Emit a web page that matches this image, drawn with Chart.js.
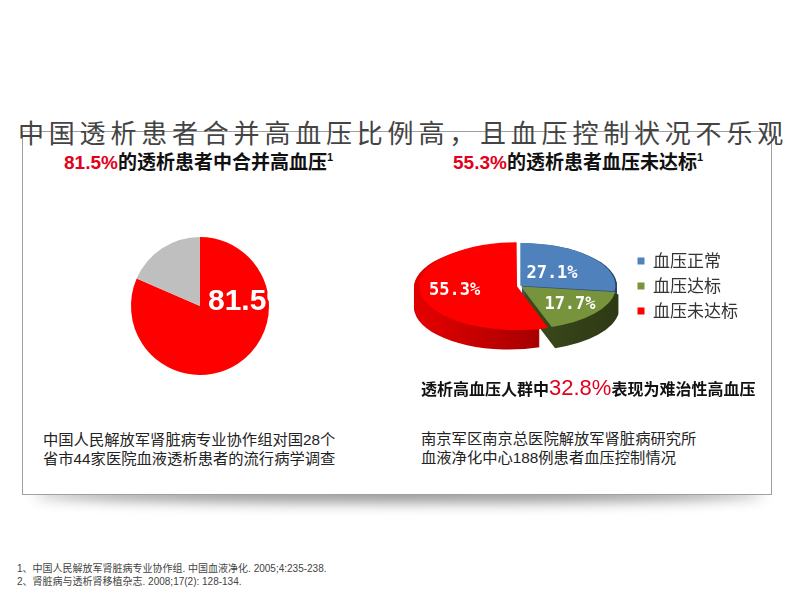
<!DOCTYPE html>
<html lang="zh">
<head>
<meta charset="utf-8">
<script src="https://cdn.jsdelivr.net/npm/chart.js@4.4.1/dist/chart.umd.min.js"></script>
<style>
  body { margin: 0; width: 800px; height: 600px; background: #fff; position: relative; overflow: hidden;
         font-family: "Liberation Sans", "Noto Sans CJK SC", sans-serif; }
  .abs { position: absolute; white-space: nowrap; }
  #shadow { left: 34px; top: 486px; width: 730px; height: 16px; background: rgba(0,0,0,.45);
            filter: blur(7px); border-radius: 50%; z-index: 0; }
  #frame { left: 22px; top: 131px; width: 748px; height: 362px; border: 1px solid #a0a0a0; background: #fff; z-index: 1; }
  #title { left: 18px; top: 117px; font-size: 26px; line-height: 30px; letter-spacing: 4.8px; color: #444;
           font-family: "Noto Sans CJK SC", sans-serif; z-index: 3; }
  .sub { font-size: 19px; line-height: 22px; font-weight: bold; color: #111; z-index: 3; }
  .sub .red { color: #e3001b; }
  .sub sup { font-size: 11px; vertical-align: 8px; line-height: 0; }
  .note { font-size: 15.3px; line-height: 18.5px; color: #222; z-index: 3; }
  .foot { font-size: 10px; line-height: 13px; color: #444; z-index: 3; }
  canvas { position: absolute; z-index: 2; }
</style>
</head>
<body>
<div class="abs" id="shadow"></div>
<div class="abs" id="frame"></div>
<div class="abs" id="title">中国透析患者合并高血压比例高，且血压控制状况不乐观</div>

<div class="abs sub" style="left:64px; top:152px;"><span class="red">81.5%</span>的透析患者中合并高血压<sup>1</sup></div>
<div class="abs sub" style="left:453px; top:152px;"><span class="red">55.3%</span>的透析患者血压未达标<sup>1</sup></div>

<canvas id="pieLeft" width="200" height="200" style="left:100px; top:206px;"></canvas>
<canvas id="pieRight" width="368" height="210" style="left:380px; top:181px;"></canvas>

<div class="abs sub" style="left:421px; top:376px; font-size:16px; line-height:24px;">透析高血压人群中<span class="red" style="font-size:22px; font-weight:normal;">32.8%</span>表现为难治性高血压</div>

<div class="abs note" style="left:43px; top:431px;">中国人民解放军肾脏病专业协作组对国28个<br>省市44家医院血液透析患者的流行病学调查</div>
<div class="abs note" style="left:421px; top:430px;">南京军区南京总医院解放军肾脏病研究所<br>血液净化中心188例患者血压控制情况</div>

<div class="abs foot" style="left:17px; top:562px;">1、中国人民解放军肾脏病专业协作组. 中国血液净化. 2005;4:235-238.<br>2、肾脏病与透析肾移植杂志. 2008;17(2): 128-134.</div>

<script>
// 左图：透析患者合并高血压比例
const leftLabels = ['合并高血压', '未合并高血压'];
const leftValues = [81.5, 18.5];
const leftColors = ['#FF0000', '#BFBFBF'];

// 右图：透析患者血压控制情况
const rightLabels = ['血压正常', '血压达标', '血压未达标'];
const rightValues = [27.1, 17.7, 55.3];
const rightColors = ['#4F81BD', '#77933C', '#FF0000'];
const sideLight = ['#3E6494', '#4A5C24', '#E00000'];
const sideDark = ['#2A4468', '#2E3A14', '#800000'];
const rightOffsets = [3, 6, 11];
const labelRadius = [0.42, 0.62, 0.58];

const TILT = 0.45;
const DEPTH = 20;

// 左图标签（白字，超出饼图部分不可见）
const leftLabel = {
    id: 'leftLabel',
    afterDatasetsDraw(chart) {
        const arc = chart.getDatasetMeta(0).data[0];
        const ctx = chart.ctx;
        ctx.save();
        ctx.font = 'bold 30px "Liberation Sans"';
        ctx.fillStyle = '#fff';
        ctx.textAlign = 'left';
        ctx.textBaseline = 'middle';
        ctx.fillText(leftValues[0].toFixed(1) + '%', arc.x + 8, arc.y - 4);
        ctx.restore();
    }
};

// 右图伪3D效果：压扁并画侧面
const pie3d = {
    id: 'pie3d',
    beforeDatasetsDraw(chart) {
        const ctx = chart.ctx;
        const arcs = chart.getDatasetMeta(0).data;
        const cx = arcs[0].x, cy = arcs[0].y;
        ctx.save();
        ctx.translate(cx, cy);
        ctx.scale(1, TILT);
        ctx.translate(-cx, -cy);
        for (let d = DEPTH; d > 0; d--) {
            arcs.forEach((arc, i) => {
                const p = arc.getProps(['x', 'y', 'startAngle', 'endAngle', 'outerRadius'], true);
                const mid = (p.startAngle + p.endAngle) / 2;
                const off = arc.options.offset;
                const ax = p.x + Math.cos(mid) * off;
                const ay = p.y + Math.sin(mid) * off + d / TILT;
                const grad = ctx.createLinearGradient(cx - p.outerRadius, 0, cx + p.outerRadius, 0);
                grad.addColorStop(0, sideLight[i]);
                grad.addColorStop(1, sideDark[i]);
                ctx.beginPath();
                ctx.moveTo(ax, ay);
                ctx.arc(ax, ay, p.outerRadius, p.startAngle, p.endAngle);
                ctx.closePath();
                ctx.fillStyle = grad;
                ctx.fill();
            });
        }
    },
    afterDatasetsDraw(chart) {
        const ctx = chart.ctx;
        ctx.restore();
        const arcs = chart.getDatasetMeta(0).data;
        ctx.save();
        ctx.font = 'bold 17px "DejaVu Sans Mono"';
        ctx.fillStyle = '#fff';
        ctx.textAlign = 'center';
        ctx.textBaseline = 'middle';
        arcs.forEach((arc, i) => {
            const mid = (arc.startAngle + arc.endAngle) / 2;
            const r = arc.outerRadius * labelRadius[i] + arc.options.offset;
            const x = arc.x + Math.cos(mid) * r;
            const y = arc.y + Math.sin(mid) * r * TILT;
            ctx.fillText(rightValues[i].toFixed(1) + '%', x, y);
        });
        ctx.restore();
    }
};

Chart.defaults.font.family = '"Liberation Sans", "Noto Sans CJK SC", sans-serif';

new Chart(document.getElementById('pieLeft'), {
    type: 'pie',
    data: {
        labels: leftLabels,
        datasets: [{ data: leftValues, backgroundColor: leftColors, borderWidth: 0, radius: 69, clip: false }]
    },
    options: {
        responsive: false,
        animation: false,
        plugins: { legend: { display: false }, tooltip: { enabled: false } }
    },
    plugins: [leftLabel]
});

new Chart(document.getElementById('pieRight'), {
    type: 'pie',
    data: {
        labels: rightLabels,
        datasets: [{
            data: rightValues,
            backgroundColor: rightColors,
            offset: rightOffsets,
            borderWidth: 0,
            radius: 95,
            clip: false
        }]
    },
    options: {
        responsive: false,
        animation: false,
        layout: { padding: { left: 30 } },
        plugins: {
            legend: {
                position: 'right',
                labels: {
                    boxWidth: 7,
                    boxHeight: 7,
                    padding: 8,
                    color: '#333',
                    font: { size: 17, family: '"Noto Sans CJK SC", sans-serif' }
                }
            },
            tooltip: { enabled: false }
        }
    },
    plugins: [pie3d]
});
</script>
</body>
</html>
